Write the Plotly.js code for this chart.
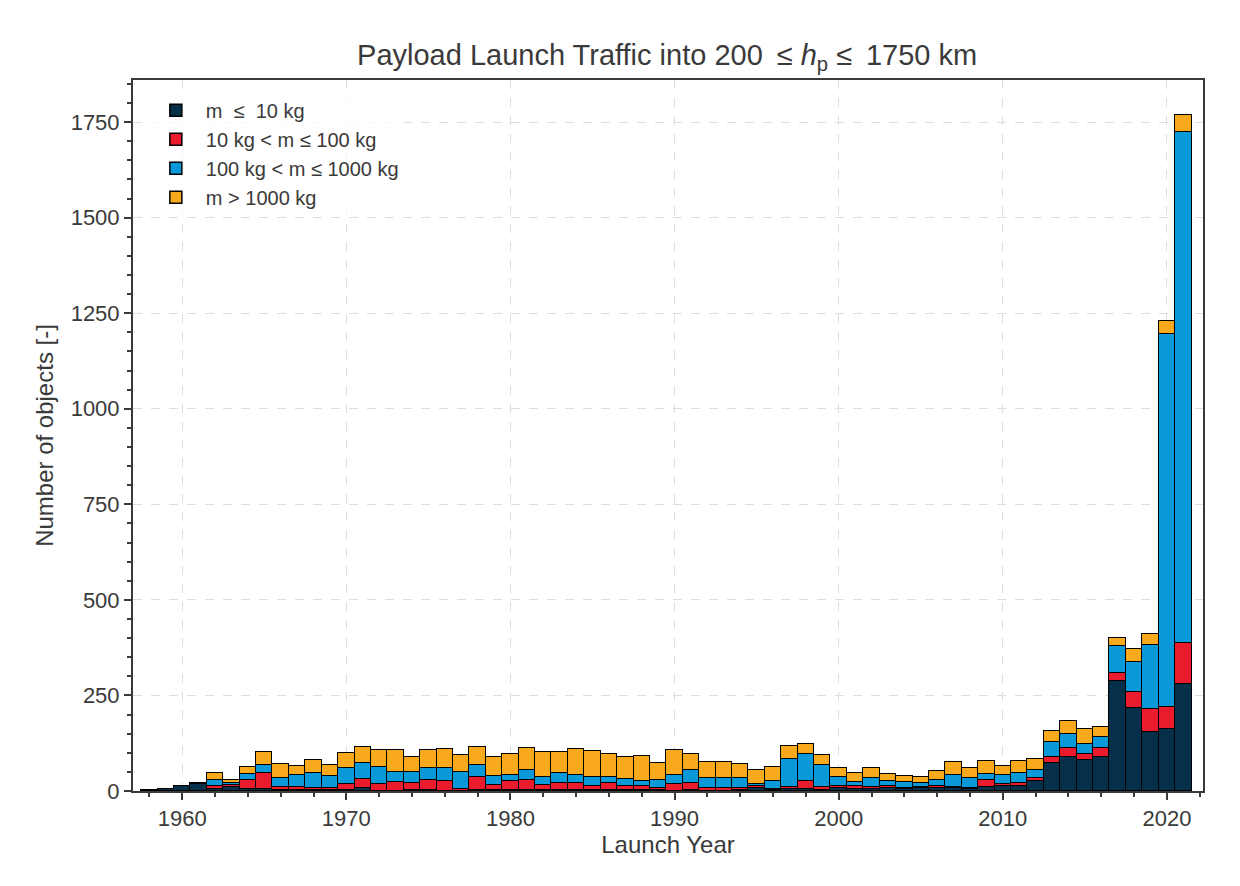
<!DOCTYPE html>
<html>
<head>
<meta charset="utf-8">
<script src="https://cdn.plot.ly/plotly-3.0.1.min.js"></script>
<style>body{margin:0;background:#fff;}</style>
</head>
<body>
<div id="plot" style="width:1240px;height:886px;"></div>
<script>
// launch years 1958..2021
var years = [];
for (var y = 1958; y <= 2021; y++) years.push(y);

var small = [3,5,13,18,5,10,5,4,3,3,3,3,2,7,1,1,2,2,1,1,2,2,2,2,2,2,2,2,2,2,2,2,1,2,1,1,2,7,2,6,4,3,7,6,5,7,5,7,7,7,5,11,13,13,26,74,88,81,88,289,216,155,161,279];
var mid = [0,0,0,1,7,5,24,42,8,8,6,5,16,25,17,23,18,27,24,5,34,14,24,27,14,18,20,10,18,10,10,5,17,20,8,8,5,6,3,4,22,7,6,7,6,6,4,4,6,4,4,17,5,9,7,16,25,17,25,19,44,59,59,107];
var large = [0,0,0,3,17,5,15,22,24,32,37,30,41,42,44,26,31,32,36,44,32,22,16,26,20,26,20,24,17,20,13,22,24,33,24,24,28,5,20,73,70,57,24,11,22,14,15,9,17,30,24,16,25,24,22,39,35,26,29,72,78,169,975,1338];
var huge = [0,0,0,0,17,10,18,33,36,23,35,30,41,40,45,57,37,46,48,44,46,52,54,58,67,57,68,69,59,58,67,45,65,41,44,44,35,38,38,35,28,28,22,24,28,17,16,16,22,35,26,35,22,32,29,29,36,37,26,20,33,27,34,44];

var names = ['m  \u2264  10 kg', '10 kg < m \u2264 100 kg', '100 kg < m \u2264 1000 kg', 'm > 1000 kg'];
var colors = ['#06304a', '#ea1b2d', '#0998d8', '#f9aa1c'];
var series = [small, mid, large, huge];

var data = series.map(function (vals, i) {
	return {
		type: 'bar',
		x: years,
		y: vals,
		name: names[i],
		width: 1,
		marker: {color: colors[i], line: {color: '#000000', width: 1.5}}
	};
});

var axisCommon = {
	showline: true,
	linecolor: '#3a3a3a',
	linewidth: 2,
	mirror: true,
	ticks: 'outside',
	ticklen: 7,
	tickwidth: 1.5,
	tickcolor: '#3a3a3a',
	showgrid: true,
	gridcolor: '#dddddd',
	griddash: 'dash',
	gridwidth: 1,
	zeroline: false,
	tickfont: {size: 22, color: '#3a3a3a'}
};

var layout = {
	width: 1240,
	height: 886,
	paper_bgcolor: '#ffffff',
	plot_bgcolor: '#ffffff',
	barmode: 'stack',
	bargap: 0,
	margin: {l: 133, r: 37, t: 80, b: 95},
	font: {family: 'Liberation Sans, Arial, sans-serif', color: '#3a3a3a'},
	title: {
		text: 'Payload Launch Traffic into 200 \u2009\u2264 <i>h</i><sub>p</sub> \u2264 \u20091750 km',
		x: 0.538, xanchor: 'center', y: 0.95,
		font: {size: 29, color: '#3a3a3a'}
	},
	xaxis: Object.assign({}, axisCommon, {
		range: [1957, 2022.2],
		dtick: 10,
		tick0: 1960,
		minor: {dtick: 2, ticks: 'outside', ticklen: 4, tickcolor: '#3a3a3a', showgrid: false},
		title: {text: 'Launch Year', font: {size: 24, color: '#3a3a3a'}, standoff: 6}
	}),
	yaxis: Object.assign({}, axisCommon, {
		range: [0, 1860],
		dtick: 250,
		minor: {dtick: 50, ticks: 'outside', ticklen: 4, tickcolor: '#3a3a3a', showgrid: false},
		title: {text: 'Number of objects [-]', font: {size: 24, color: '#3a3a3a'}, standoff: 10}
	}),
	legend: {
		x: 0.012, y: 0.985, xanchor: 'left', yanchor: 'top',
		bgcolor: 'rgba(255,255,255,0.8)',
		font: {size: 20, color: '#3a3a3a'},
		traceorder: 'normal',
		tracegroupgap: 8,
		itemwidth: 50
	},
	showlegend: true
};

Plotly.newPlot('plot', data, layout, {displayModeBar: false});
</script>
</body>
</html>
